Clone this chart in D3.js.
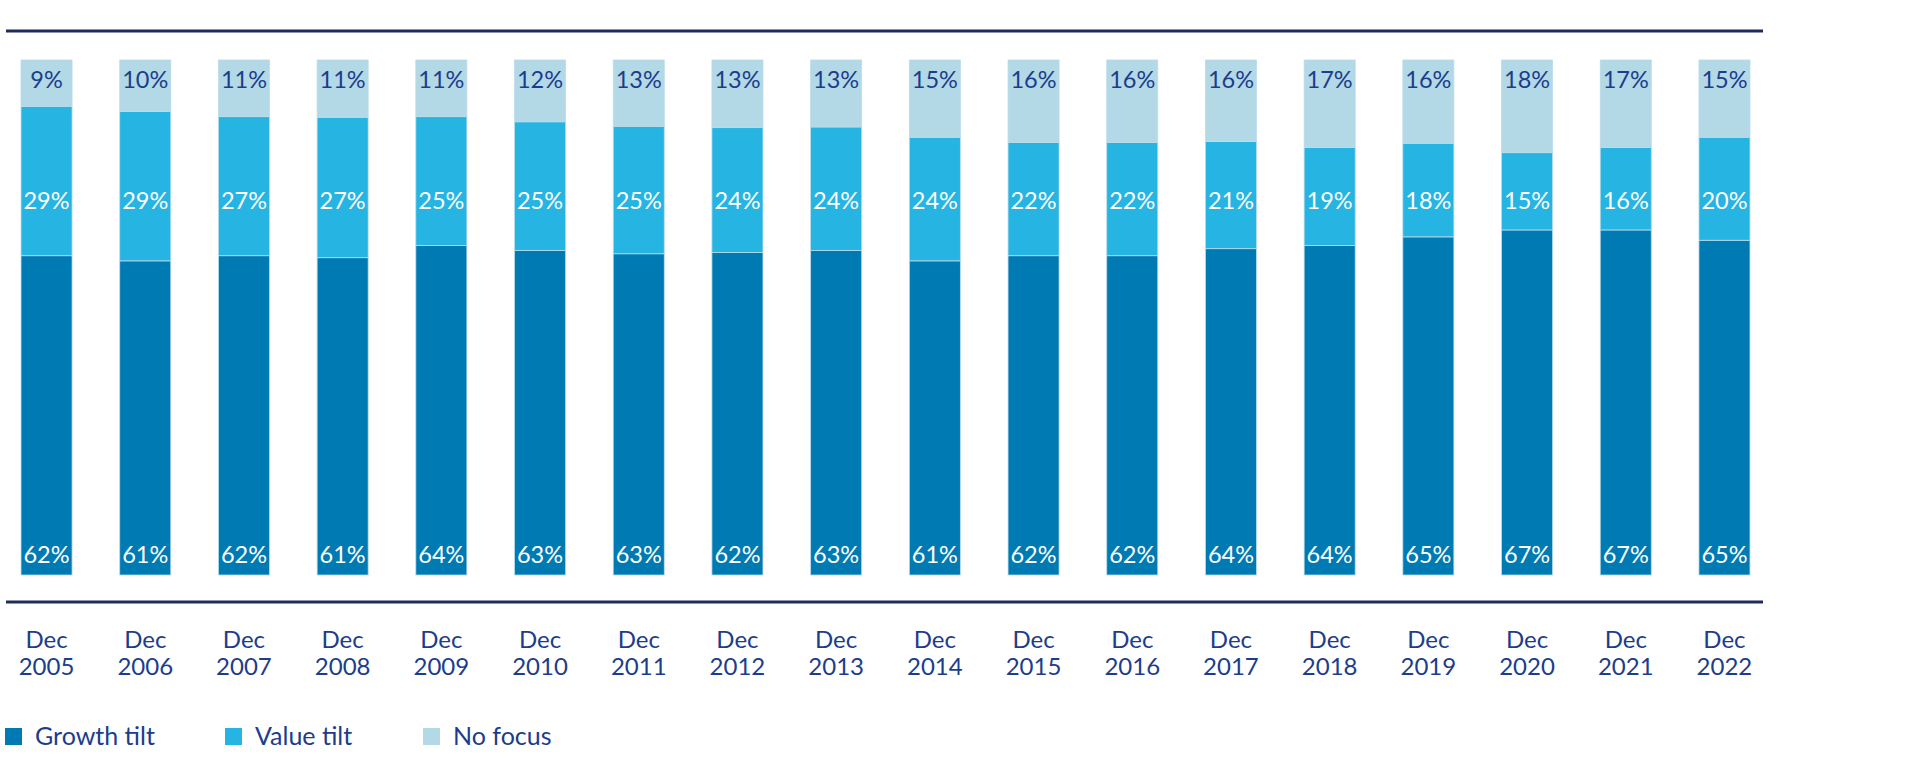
<!DOCTYPE html>
<html>
<head>
<meta charset="utf-8">
<script src="https://cdn.jsdelivr.net/npm/d3@7"></script>
<style>
  html, body { margin: 0; padding: 0; background: #fff; }
  svg { display: block; }
</style>
</head>
<body>
<svg id="chart" width="1920" height="760"></svg>
<script>
// Data
const years = ['2005', '2006', '2007', '2008', '2009', '2010', '2011', '2012', '2013',
    '2014', '2015', '2016', '2017', '2018', '2019', '2020', '2021', '2022'];
const growth = [62, 61, 62, 61, 64, 63, 63, 62, 63, 61, 62, 62, 64, 64, 65, 67, 67, 65];
const value = [29, 29, 27, 27, 25, 25, 25, 24, 24, 24, 22, 22, 21, 19, 18, 15, 16, 20];
const noFocus = [9, 10, 11, 11, 11, 12, 13, 13, 13, 15, 16, 16, 16, 17, 16, 18, 17, 15];

const seriesKeys = ['growth', 'value', 'noFocus'];
const seriesNames = ['Growth tilt', 'Value tilt', 'No focus'];

const COLORS = {
    growth: '#007ab3',
    value: '#26b4e3',
    noFocus: '#b3d8e6',
    navy: '#1b3d8c',
    rule: '#1f2d5c',
};
const FONT = 'Lato, "Open Sans", sans-serif';

const rows = years.map((y, i) => ({ year: y, growth: growth[i], value: value[i], noFocus: noFocus[i] }));

const svg = d3.select('#chart');

const x = d3.scaleBand()
    .domain(years)
    .range([0, 1771])
    .paddingInner(0.483)
    .paddingOuter(0.213);

const y = d3.scaleLinear().domain([0, 1]).range([575, 60]);

const stacked = d3.stack().keys(seriesKeys).offset(d3.stackOffsetExpand)(rows);

// top and bottom rules
[31, 602].forEach((yy) => {
    svg.append('line')
        .attr('x1', 6).attr('x2', 1763)
        .attr('y1', yy).attr('y2', yy)
        .attr('stroke', COLORS.rule)
        .attr('stroke-width', 3);
});

// bars
svg.append('g')
    .selectAll('g')
    .data(stacked)
    .join('g')
    .attr('fill', (s) => COLORS[s.key])
    .selectAll('rect')
    .data((s) => s)
    .join('rect')
    .attr('x', (d) => x(d.data.year))
    .attr('width', x.bandwidth())
    .attr('y', (d) => y(d[1]))
    .attr('height', (d) => y(d[0]) - y(d[1]))
    .attr('stroke', '#b9dcea')
    .attr('stroke-width', 0.8);

// segment labels at fixed heights
const labelRows = [
    { key: 'noFocus', yPos: y(1) + 28, color: COLORS.navy },
    { key: 'value', yPos: y(0.711), color: '#ffffff' },
    { key: 'growth', yPos: y(0) - 12, color: '#ffffff' },
];

labelRows.forEach((lr) => {
    svg.append('g')
        .selectAll('text')
        .data(rows)
        .join('text')
        .attr('x', (d) => x(d.year) + x.bandwidth() / 2)
        .attr('y', lr.yPos)
        .attr('text-anchor', 'middle')
        .attr('font-family', FONT)
        .attr('font-size', 23.5)
        .attr('fill', lr.color)
        .text((d) => d[lr.key] + '%');
});

// category labels
const xl = svg.append('g')
    .selectAll('text')
    .data(years)
    .join('text')
    .attr('text-anchor', 'middle')
    .attr('font-family', FONT)
    .attr('font-size', 24)
    .attr('fill', COLORS.navy);
xl.append('tspan')
    .attr('x', (d) => x(d) + x.bandwidth() / 2)
    .attr('y', 648)
    .text('Dec');
xl.append('tspan')
    .attr('x', (d) => x(d) + x.bandwidth() / 2)
    .attr('y', 675)
    .text((d) => d);

// legend
const legendX = [5, 225, 423];
const legend = svg.append('g')
    .selectAll('g')
    .data(seriesKeys)
    .join('g')
    .attr('transform', (d, i) => `translate(${legendX[i]}, 728)`);
legend.append('rect')
    .attr('width', 17).attr('height', 17)
    .attr('fill', (d) => COLORS[d]);
legend.append('text')
    .attr('x', 30).attr('y', 17)
    .attr('font-family', FONT)
    .attr('font-size', 25)
    .attr('fill', COLORS.navy)
    .text((d, i) => seriesNames[i]);
</script>
</body>
</html>
